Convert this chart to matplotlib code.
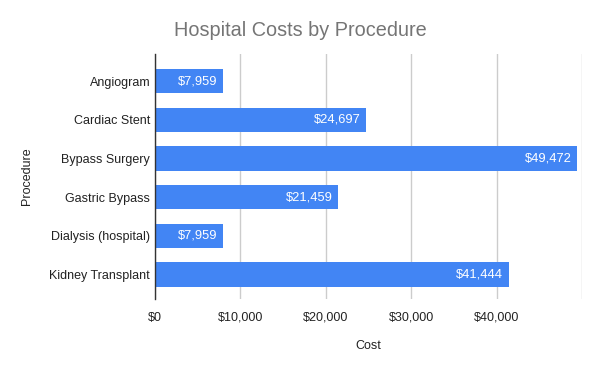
import matplotlib
matplotlib.use("Agg")
import matplotlib.pyplot as plt

procedures = ["Angiogram", "Cardiac Stent", "Bypass Surgery", "Gastric Bypass",
              "Dialysis (hospital)", "Kidney Transplant"]
costs = [7959, 24697, 49472, 21459, 7959, 41444]
tick_values = [0, 10000, 20000, 30000, 40000]
tick_labels = ["$0", "$10,000", "$20,000", "$30,000", "$40,000"]

plt.rcParams['font.family'] = ['Liberation Sans', 'DejaVu Sans']

fig = plt.figure(figsize=(6, 3.71), dpi=100)
ax = fig.add_axes([155/600, 72/371, 427/600, 245/371])

bar_color = "#4285F4"
ypos = list(range(len(procedures)))
ax.barh(ypos, costs, height=0.63, color=bar_color, zorder=3)
for y, v in zip(ypos, costs):
    ax.annotate(f"${v:,}", xy=(v, y), xytext=(-4, 0), textcoords="offset points",
                color="white", ha="right", va="center", fontsize=9.3, zorder=4)

ax.set_ylim(5.63, -0.70)
ax.set_xlim(0, 50000)
ax.set_yticks(ypos)
ax.set_yticklabels(procedures, fontsize=9, color="#222222")
ax.set_xticks(tick_values + [50000])
ax.set_xticklabels(tick_labels + [""], fontsize=9, color="#222222")
ax.tick_params(axis="both", length=0)
ax.tick_params(axis="x", pad=9)
ax.tick_params(axis="y", pad=3.5)
ax.grid(axis="x", color="#cccccc", linewidth=1, zorder=0)
for s in ["top", "right", "bottom"]:
    ax.spines[s].set_visible(False)
ax.spines["left"].set_color("#333333")
ax.spines["left"].set_linewidth(1)
ax.spines["left"].set_zorder(5)

ax.set_xlabel("Cost", fontsize=9, color="#222222", labelpad=12)
ax.set_ylabel("Procedure", fontsize=9, color="#222222")
ax.yaxis.set_label_coords(-(155 - 33) / 427, 0.5)

fig.text(300 / 600, 1 - 31 / 371, "Hospital Costs by Procedure", ha="center", va="center",
         fontsize=14.3, color="#757575")

fig.savefig("out.png", dpi=100)
